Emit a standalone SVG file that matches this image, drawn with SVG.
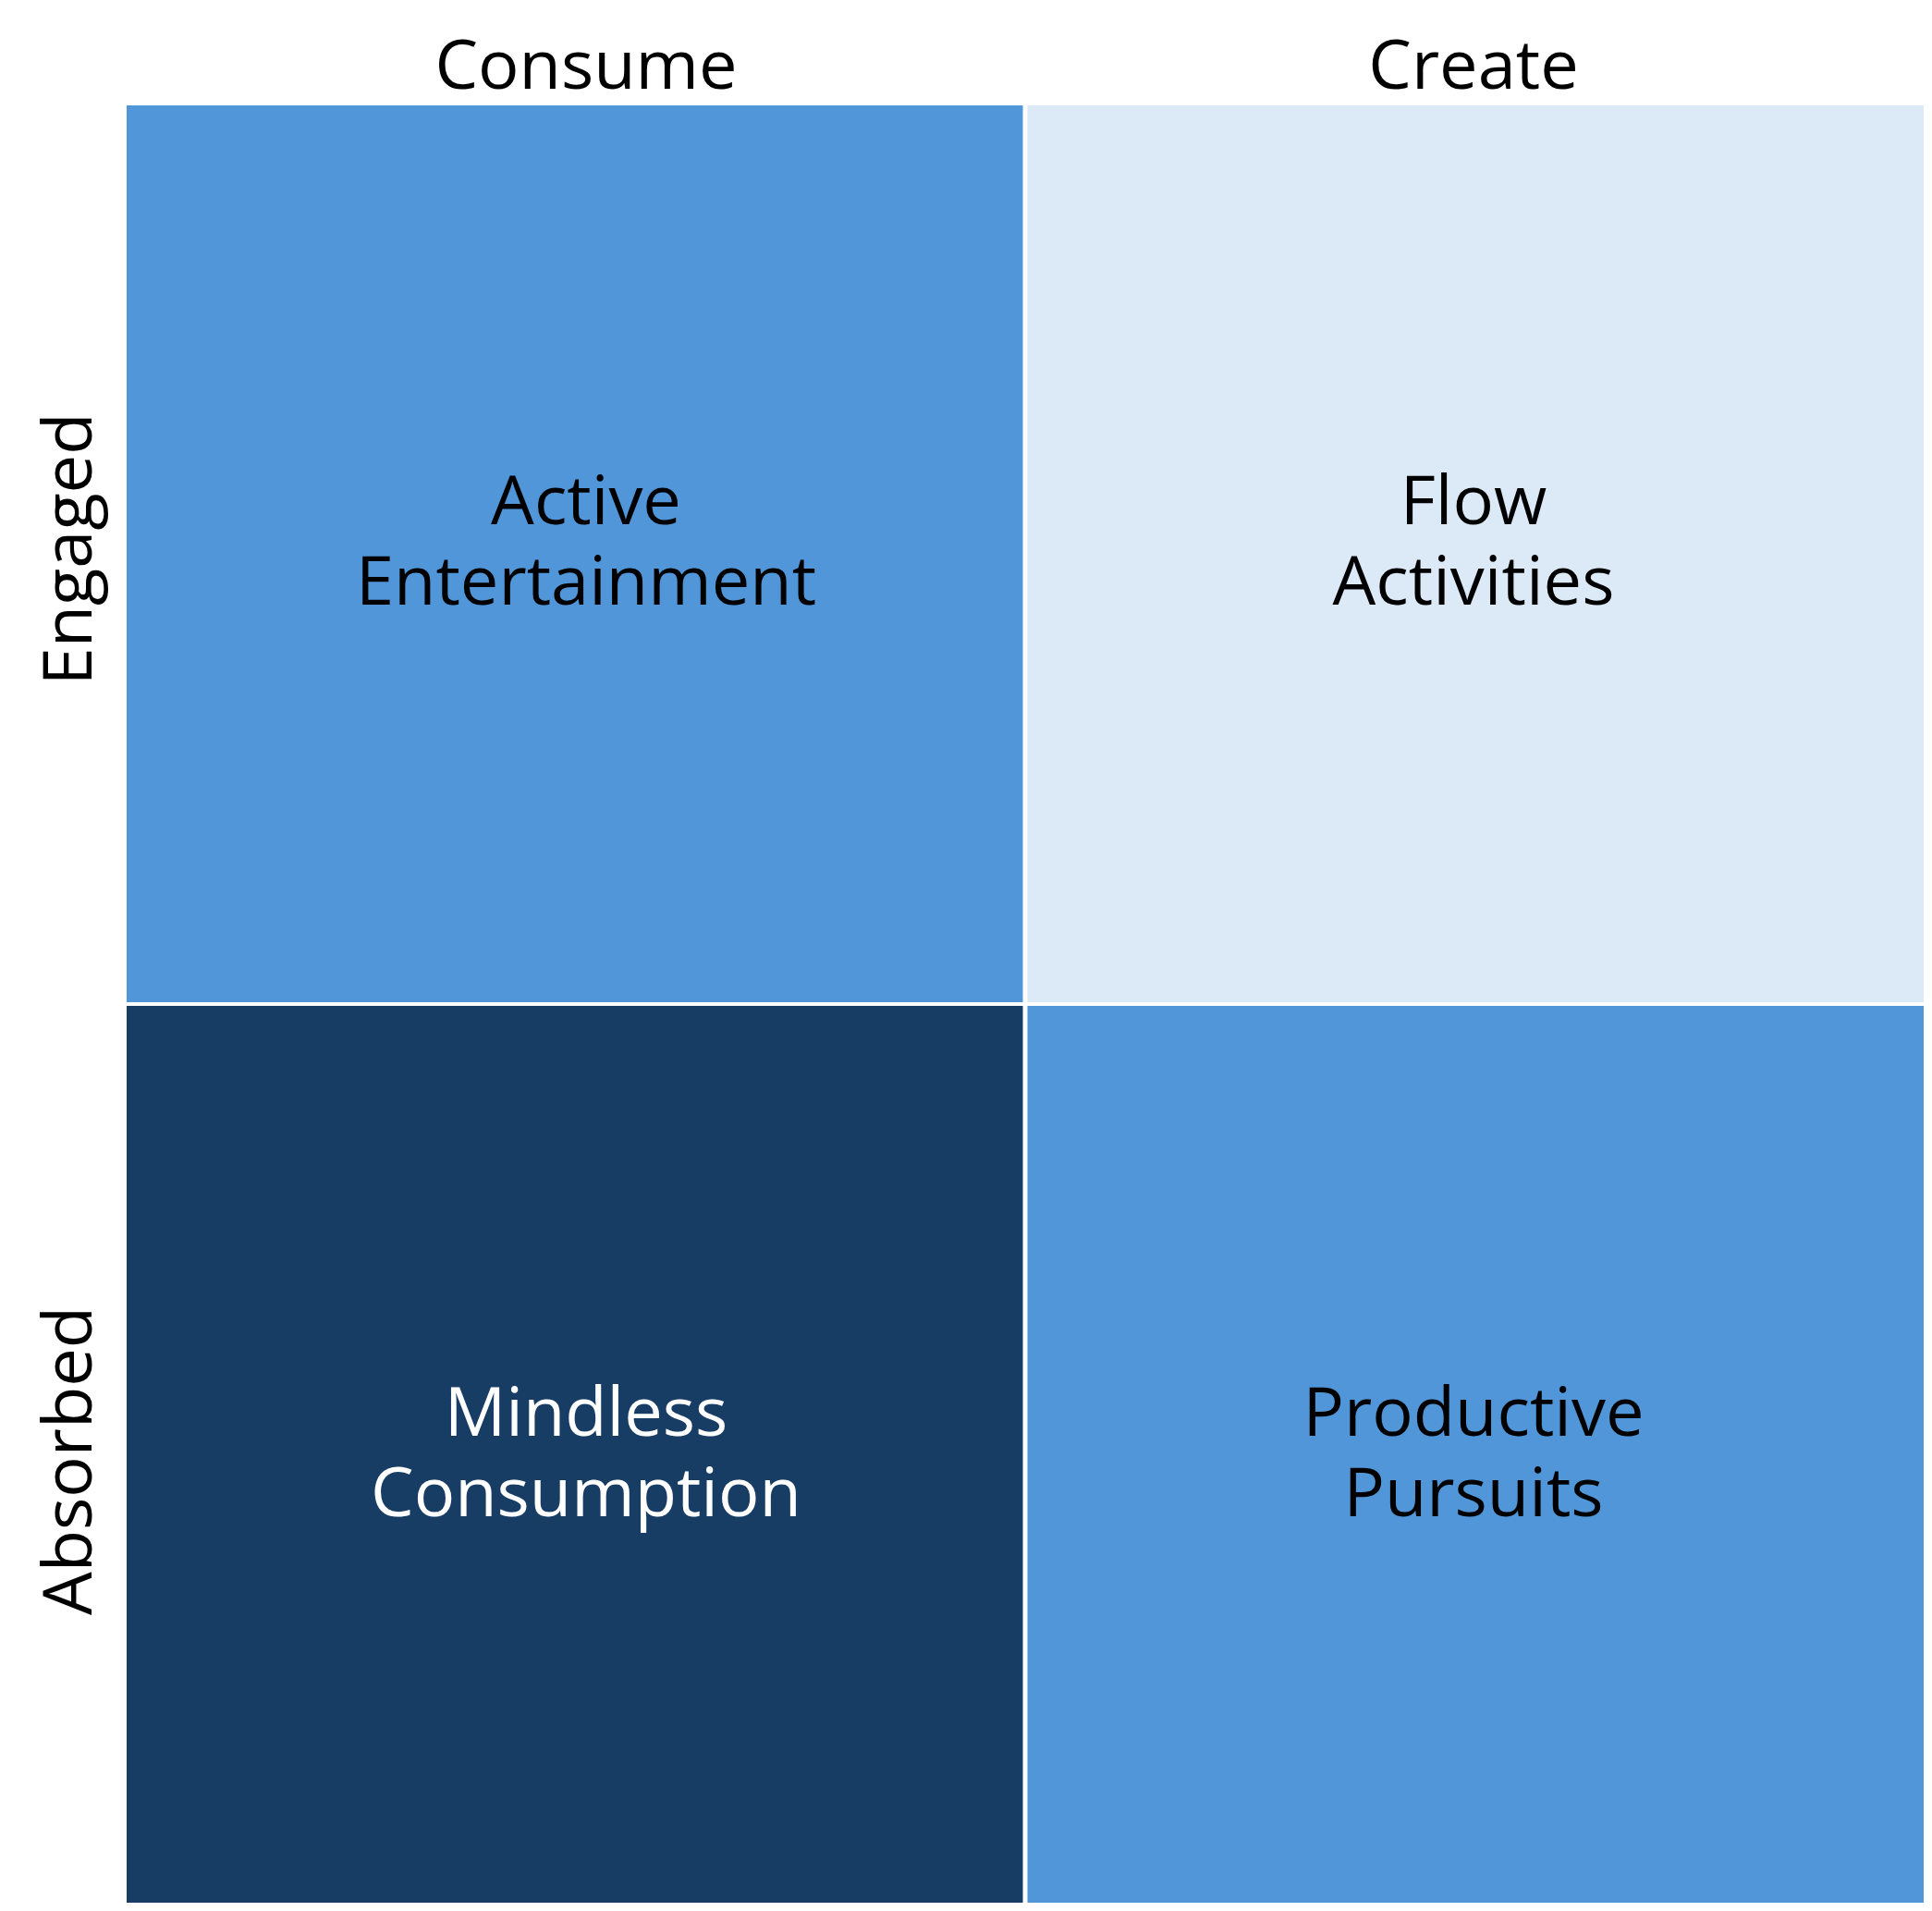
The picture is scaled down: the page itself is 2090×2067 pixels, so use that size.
<svg xmlns="http://www.w3.org/2000/svg" width="2090" height="2067" viewBox="0 0 2090 2067">
<style>
.t{font-family:"Open Sans","Noto Sans","DejaVu Sans",sans-serif;font-size:74px;text-anchor:middle;fill:#000000}
.w{fill:#ffffff}
</style>
<rect x="0" y="0" width="2090" height="2067" fill="#ffffff"/>
<g id="header-consume"><text class="t" x="634" y="96">Consume</text></g>
<g id="header-create"><text class="t" x="1594" y="96">Create</text></g>
<g id="row-engaged"><text class="t" transform="translate(99,594) rotate(-90)">Engaged</text></g>
<g id="row-absorbed"><text class="t" transform="translate(99,1580) rotate(-90)">Absorbed</text></g>
<g id="cell-active">
<rect x="137" y="114" width="969.5" height="970" fill="#5096d9"/>
<text class="t" x="634" y="567">Active</text>
<text class="t" x="634" y="654">Entertainment</text>
</g>
<g id="cell-flow">
<rect x="1111.5" y="114" width="969.5" height="970" fill="#dce9f6"/>
<text class="t" x="1594" y="567">Flow</text>
<text class="t" x="1594" y="654">Activities</text>
</g>
<g id="cell-mindless">
<rect x="137" y="1088" width="969.5" height="970" fill="#183d65"/>
<text class="t w" x="634" y="1553">Mindless</text>
<text class="t w" x="634" y="1640">Consumption</text>
</g>
<g id="cell-productive">
<rect x="1111.5" y="1088" width="969.5" height="970" fill="#5096d9"/>
<text class="t" x="1594" y="1553">Productive</text>
<text class="t" x="1594" y="1640">Pursuits</text>
</g>
<g id="connectors"></g>
</svg>
